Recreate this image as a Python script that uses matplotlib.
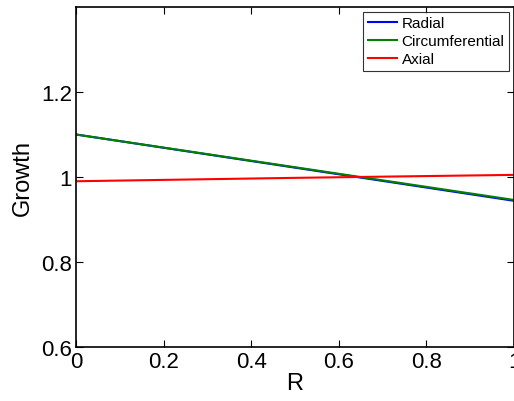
import matplotlib.pyplot as plt

plt.rcParams['font.family'] = ['Liberation Sans', 'DejaVu Sans']

# values
r = [0.0, 0.5, 1.0]
radial = [1.100, 1.022, 0.944]
circumferential = [1.100, 1.023, 0.946]
axial = [0.990, 0.998, 1.005]

fig = plt.figure(figsize=(5.14, 4.02), dpi=100)
ax = fig.add_axes([76 / 514, 1 - 348 / 402, 438 / 514, 340 / 402])

ax.plot(r, radial, color='#0000ff', lw=1.5, label='Radial')
ax.plot(r, circumferential, color='#008000', lw=1.5, label='Circumferential')
ax.plot(r, axial, color='#ff0000', lw=1.5, label='Axial')

ax.set_xlim(0, 1)
ax.set_ylim(0.6, 1.4)
ax.set_xticks([0, 0.2, 0.4, 0.6, 0.8, 1])
ax.set_xticklabels(['0', '0.2', '0.4', '0.6', '0.8', '1'])
ax.set_yticks([0.6, 0.8, 1.0, 1.2])
ax.set_yticklabels(['0.6', '0.8', '1', '1.2'])
ax.tick_params(direction='in', top=True, right=True, length=5, width=0.8,
               labelsize=16, pad=3)
for s in ax.spines.values():
    s.set_linewidth(1.2)

ax.set_xlabel('R', fontsize=17, labelpad=0)
ax.set_ylabel('Growth', fontsize=17, labelpad=5)

leg = ax.legend(loc='upper right', fontsize=11, frameon=True, fancybox=False,
                borderpad=0.32, labelspacing=0.25, handlelength=1.9,
                handletextpad=0.33, borderaxespad=0.3)
leg.get_frame().set_edgecolor('black')
leg.get_frame().set_linewidth(0.8)

fig.savefig('out.png', dpi=100)
